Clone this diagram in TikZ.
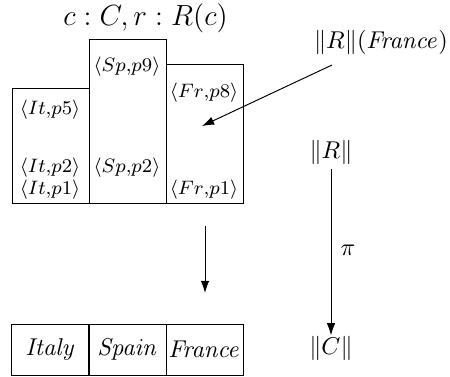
\documentclass[tikz,border=0pt]{standalone}
\usetikzlibrary{arrows.meta}
\begin{document}
\begin{tikzpicture}[x=0.4115pt,y=-0.4115pt,
  colbox/.style={draw, anchor=south west, minimum width=31.7pt, inner sep=0pt},
  cellbox/.style={draw, minimum width=31.7pt, minimum height=21pt, inner sep=0pt},
  lbl/.style={inner sep=0pt, font=\footnotesize},
  txt/.style={inner sep=0pt},
  arr/.style={-{Latex[length=5pt,width=3.5pt]}, line width=0.4pt}]
\useasboundingbox (0,0) rectangle (450,376);
% title
\node[txt, font=\large] (title) at (145.5,18) {$c:C, r:R(c)$};
% columns
\node[colbox, minimum height=47.3pt] (colIt) at (12,204) {};
\node[colbox, minimum height=67.5pt] (colSp) at (89,204) {};
\node[colbox, minimum height=57.2pt] (colFr) at (166,204) {};
% labels
\node[lbl] (it5) at (50,110) {$\langle It{,}p5\rangle$};
\node[lbl] (it2) at (50,168) {$\langle It{,}p2\rangle$};
\node[lbl] (it1) at (50,190) {$\langle It{,}p1\rangle$};
\node[lbl] (sp9) at (127,67) {$\langle Sp{,}p9\rangle$};
\node[lbl] (sp2) at (127,168) {$\langle Sp{,}p2\rangle$};
\node[lbl] (fr8) at (204,93) {$\langle Fr{,}p8\rangle$};
\node[lbl] (fr1) at (204,190) {$\langle Fr{,}p1\rangle$};
% right side
\node[txt] (RF) at (381,42) {$\|R\|(\mathit{France})$};
\node[txt] (R) at (331,152) {$\|R\|$};
\node[txt] (C) at (331,348) {$\|C\|$};
\coordinate (frin) at (202,126);
\coordinate (rfs) at (332,65);
\draw[arr] (rfs) -- (frin);
\coordinate (rstart) at (331,169);
\draw[arr] (rstart) -- (C.north);
\node[txt] (pi) at (348,250) {$\pi$};
% middle arrow
\coordinate (ma) at (205,226);
\coordinate (mb) at (205,293);
\draw[arr] (ma) -- (mb);
% bottom cells
\node[cellbox] (italy) at (50.5,349.5) {$\mathit{Italy}$};
\node[cellbox] (spain) at (127.5,349.5) {$\mathit{Spain}$};
\node[cellbox] (france) at (204.5,349.5) {$\mathit{France}$};
\end{tikzpicture}
\end{document}
